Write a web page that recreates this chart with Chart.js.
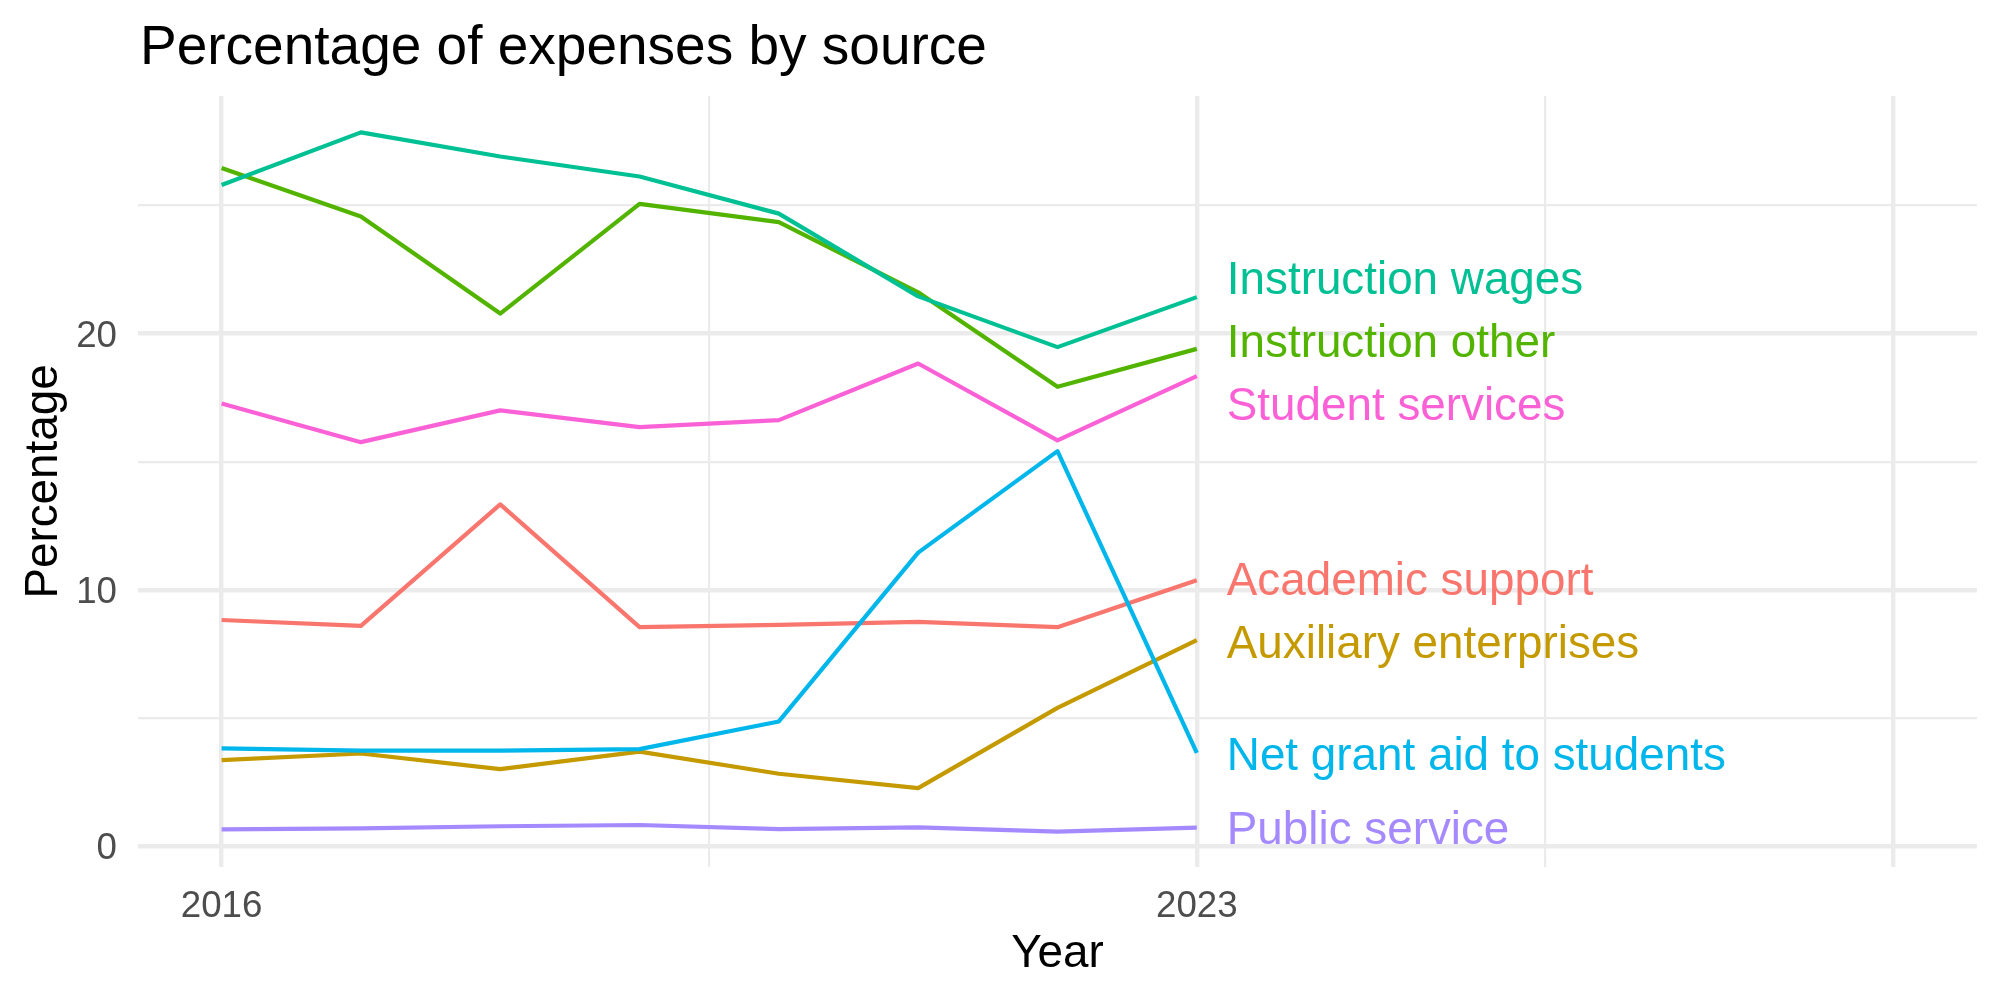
<!DOCTYPE html>
<html>
<head>
<meta charset="utf-8">
<script src="https://cdn.jsdelivr.net/npm/chart.js@4.4.1/dist/chart.umd.min.js"></script>
<style>
  html, body { margin: 0; padding: 0; background: #fff; }
  #wrap { width: 2000px; height: 1000px; }
</style>
</head>
<body>
<div id="wrap"><canvas id="expense-chart"></canvas></div>
<script>
const years = [2016, 2017, 2018, 2019, 2020, 2021, 2022, 2023];

const academicSupport      = [8.82, 8.59, 13.33, 8.54, 8.63, 8.75, 8.54, 10.37];
const auxiliaryEnterprises = [3.35, 3.61, 3.00, 3.68, 2.82, 2.26, 5.39, 8.03];
const instructionOther     = [26.46, 24.57, 20.78, 25.06, 24.35, 21.61, 17.92, 19.40];
const instructionWages     = [25.80, 27.85, 26.91, 26.13, 24.68, 21.45, 19.47, 21.42];
const netGrantAid          = [3.81, 3.72, 3.72, 3.78, 4.86, 11.45, 15.41, 3.63];
const publicService        = [0.65, 0.69, 0.77, 0.82, 0.66, 0.73, 0.56, 0.72];
const studentServices      = [17.27, 15.76, 17.00, 16.35, 16.62, 18.83, 15.83, 18.34];

const seriesNames = ['Academic support', 'Auxiliary enterprises', 'Instruction other',
  'Instruction wages', 'Net grant aid to students', 'Public service', 'Student services'];
const seriesValues = [academicSupport, auxiliaryEnterprises, instructionOther,
  instructionWages, netGrantAid, publicService, studentServices];
const seriesColors = ['#F8766D', '#C49A00', '#53B400', '#00C094', '#00B6EB', '#A58AFF', '#FB61D7'];

const xTicks = [2016, 2019.5, 2023, 2025.5, 2028];
const xLabels = [2016, 2023];
const xMajor = [2016, 2023, 2028];
const yTicks = [0, 5, 10, 15, 20, 25];
const yLabels = [0, 10, 20];

const FONT = '"Liberation Sans", Arial, Helvetica, sans-serif';

// chart.js draws dataset 0 on top, ggplot draws the last group on top
const datasets = seriesNames.map((name, i) => ({
  label: name,
  data: years.map((yr, j) => ({ x: yr, y: seriesValues[i][j] })),
  borderColor: seriesColors[i],
  backgroundColor: seriesColors[i],
  borderWidth: 4.2,
  pointRadius: 0,
  tension: 0,
  borderJoinStyle: 'round',
})).reverse();

// direct labels at the end of each line, pushed apart when they collide
const endLabels = {
  id: 'endLabels',
  afterDatasetsDraw(chart) {
    const { ctx, scales: { x, y } } = chart;
    const gap = 63;
    const items = chart.data.datasets.map(ds => {
      const last = ds.data[ds.data.length - 1];
      return { text: ds.label, color: ds.borderColor, x: x.getPixelForValue(last.x) + 30, y0: y.getPixelForValue(last.y) };
    }).sort((a, b) => a.y0 - b.y0);

    let groups = items.map(it => ({ members: [it], center: it.y0 }));
    let merged = true;
    while (merged) {
      merged = false;
      for (let i = 1; i < groups.length; i++) {
        const a = groups[i - 1], b = groups[i];
        const aBottom = a.center + (a.members.length - 1) * gap / 2;
        const bTop = b.center - (b.members.length - 1) * gap / 2;
        if (bTop - aBottom < gap) {
          const members = a.members.concat(b.members);
          const center = members.reduce((s, m) => s + m.y0, 0) / members.length;
          groups.splice(i - 1, 2, { members, center });
          merged = true;
          break;
        }
      }
    }

    ctx.save();
    ctx.font = '45.8px ' + FONT;
    ctx.textAlign = 'left';
    ctx.textBaseline = 'middle';
    groups.forEach(g => {
      g.members.forEach((m, k) => {
        ctx.fillStyle = m.color;
        ctx.fillText(m.text, m.x, g.center + (k - (g.members.length - 1) / 2) * gap + 4);
      });
    });
    ctx.restore();
  }
};

const plotTitle = {
  id: 'plotTitle',
  afterDraw(chart) {
    const ctx = chart.ctx;
    ctx.save();
    ctx.font = '55px ' + FONT;
    ctx.fillStyle = '#000';
    ctx.textAlign = 'left';
    ctx.textBaseline = 'alphabetic';
    ctx.fillText('Percentage of expenses by source', 140, 64);
    ctx.restore();
  }
};

new Chart(document.getElementById('expense-chart'), {
  type: 'line',
  data: { datasets },
  options: {
    responsive: true,
    maintainAspectRatio: false,
    devicePixelRatio: 1,
    animation: false,
    layout: { padding: { left: 0, right: 23, top: 96, bottom: 0 } },
    plugins: {
      legend: { display: false },
      tooltip: { enabled: false },
    },
    scales: {
      x: {
        type: 'linear',
        min: 2015.4,
        max: 2028.6,
        afterBuildTicks: s => { s.ticks = xTicks.map(v => ({ value: v })); },
        afterFit: s => { s.height = 133; },
        border: { display: false },
        grid: {
          color: '#EBEBEB',
          lineWidth: c => xMajor.includes(c.tick.value) ? 4.4 : 2.2,
          drawTicks: false,
        },
        ticks: {
          autoSkip: false,
          maxRotation: 0,
          padding: 18,
          color: '#4D4D4D',
          font: { family: FONT, size: 36.7, lineHeight: 1.2 },
          callback: v => xLabels.includes(v) ? String(v) : '',
        },
        title: {
          display: true,
          text: 'Year',
          color: '#000',
          font: { family: FONT, size: 45.8, lineHeight: 1 },
          padding: { top: 0, bottom: 23 },
        },
      },
      y: {
        min: -0.82,
        max: 29.27,
        afterBuildTicks: s => { s.ticks = yTicks.map(v => ({ value: v })); },
        afterFit: s => { s.width = 138; },
        border: { display: false },
        grid: {
          color: '#EBEBEB',
          lineWidth: c => yLabels.includes(c.tick.value) ? 4.4 : 2.2,
          drawTicks: false,
        },
        ticks: {
          padding: 21,
          labelOffset: 3,
          color: '#4D4D4D',
          font: { family: FONT, size: 36.7, lineHeight: 1.2 },
          callback: v => yLabels.includes(v) ? String(v) : '',
        },
        title: {
          display: true,
          text: 'Percentage',
          color: '#000',
          font: { family: FONT, size: 45.8, lineHeight: 1 },
          padding: { top: 21, bottom: 0 },
        },
      },
    },
  },
  plugins: [endLabels, plotTitle],
});
</script>
</body>
</html>
